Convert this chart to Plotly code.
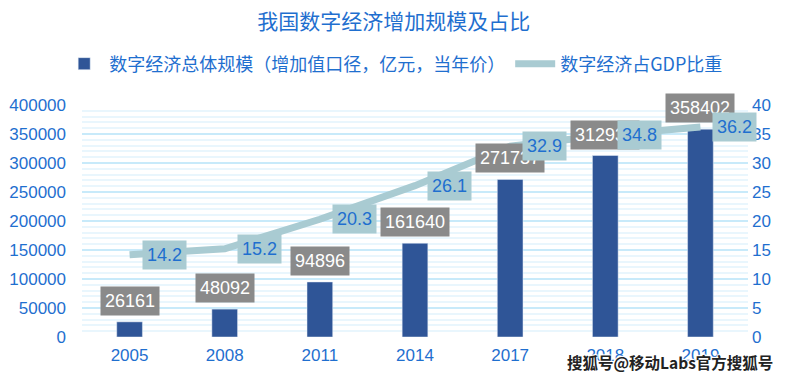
import plotly.graph_objects as go

years = ["2005", "2008", "2011", "2014", "2017", "2018", "2019"]
scale = [26161, 48092, 94896, 161640, 271737, 312930, 358402]
share = [14.2, 15.2, 20.3, 26.1, 32.9, 34.8, 36.2]

title = "我国数字经济增加规模及占比"
bar_name = "数字经济总体规模（增加值口径，亿元，当年价）"
line_name = "数字经济占GDP比重"
y_ticks = [0, 50000, 100000, 150000, 200000, 250000, 300000, 350000, 400000]
y2_ticks = [0, 5, 10, 15, 20, 25, 30, 35, 40]

BLUE_TXT = "#1f6fcf"
BAR = "#2f5597"
LINE = "#a9cbd2"
CJK = "Noto Sans CJK SC, Liberation Sans, Arial, sans-serif"
NUM = "Liberation Sans, Arial, sans-serif"

fig = go.Figure()
fig.add_trace(go.Bar(x=years, y=scale, name=bar_name, marker_color=BAR, width=0.27, yaxis="y"))
fig.add_trace(go.Scatter(x=years, y=share, name=line_name, mode="lines",
                         line=dict(color=LINE, width=7), yaxis="y2"))

annotations = []
for i, v in enumerate(scale):
    annotations.append(dict(x=i, y=v, xref="x", yref="y", text=str(v), showarrow=False,
                            yanchor="bottom", yshift=6, bgcolor="#8a8a8a", borderpad=4,
                            font=dict(family=NUM, size=18, color="white")))
for i, v in enumerate(share):
    annotations.append(dict(x=i, y=v, xref="x", yref="y2", text=f"{v:.1f}", showarrow=False,
                            xanchor="left", xshift=12, bgcolor=LINE, borderpad=4,
                            font=dict(family=NUM, size=18, color=BLUE_TXT)))
annotations.append(dict(x=1.04, y=-0.108, xref="paper", yref="paper", yanchor="middle", xanchor="right",
                        text="<b>搜狐号@移动Labs官方搜狐号</b>", showarrow=False,
                        font=dict(family=CJK, size=15.5, color="#222222",
                                  shadow="1px 1px 1px white, -1px -1px 1px white, 1px -1px 1px white, -1px 1px 1px white")))

fig.update_layout(
    width=783, height=370,
    margin=dict(l=74, r=43, t=97, b=41, autoexpand=False),
    paper_bgcolor="white", plot_bgcolor="white",
    title=dict(text=title, x=0.468, xanchor="center", y=0.963, yanchor="middle",
               xref="paper", font=dict(family=CJK, size=21, color=BLUE_TXT)),
    legend=dict(orientation="h", x=0.468, xanchor="center", y=1.177, yanchor="middle",
                font=dict(family=CJK, size=18, color=BLUE_TXT), itemwidth=40,
                bgcolor="rgba(0,0,0,0)"),
    bargap=0.73,
    xaxis=dict(type="category", range=[-0.5, len(years) - 0.5], automargin=False,
               tickfont=dict(family=NUM, size=17, color=BLUE_TXT),
               showgrid=False, showline=False, ticks="", ticklabelstandoff=6),
    yaxis=dict(range=[0, 400000], tickvals=y_ticks, ticktext=[str(t) for t in y_ticks],
               tickfont=dict(family=NUM, size=17, color=BLUE_TXT), automargin=False,
               showgrid=True, gridcolor="#c8eafa", gridwidth=2, zeroline=False,
               minor=dict(dtick=10000, showgrid=True, gridcolor="#e9f6fd", gridwidth=2),
               ticks="", ticklabelstandoff=15),
    yaxis2=dict(range=[0, 40], tickvals=y2_ticks, overlaying="y", side="right", automargin=False,
                tickfont=dict(family=NUM, size=17, color=BLUE_TXT),
                showgrid=False, zeroline=False, ticks="", ticklabelstandoff=3),
    annotations=annotations,
    showlegend=True,
)

fig.write_html("out.html")
